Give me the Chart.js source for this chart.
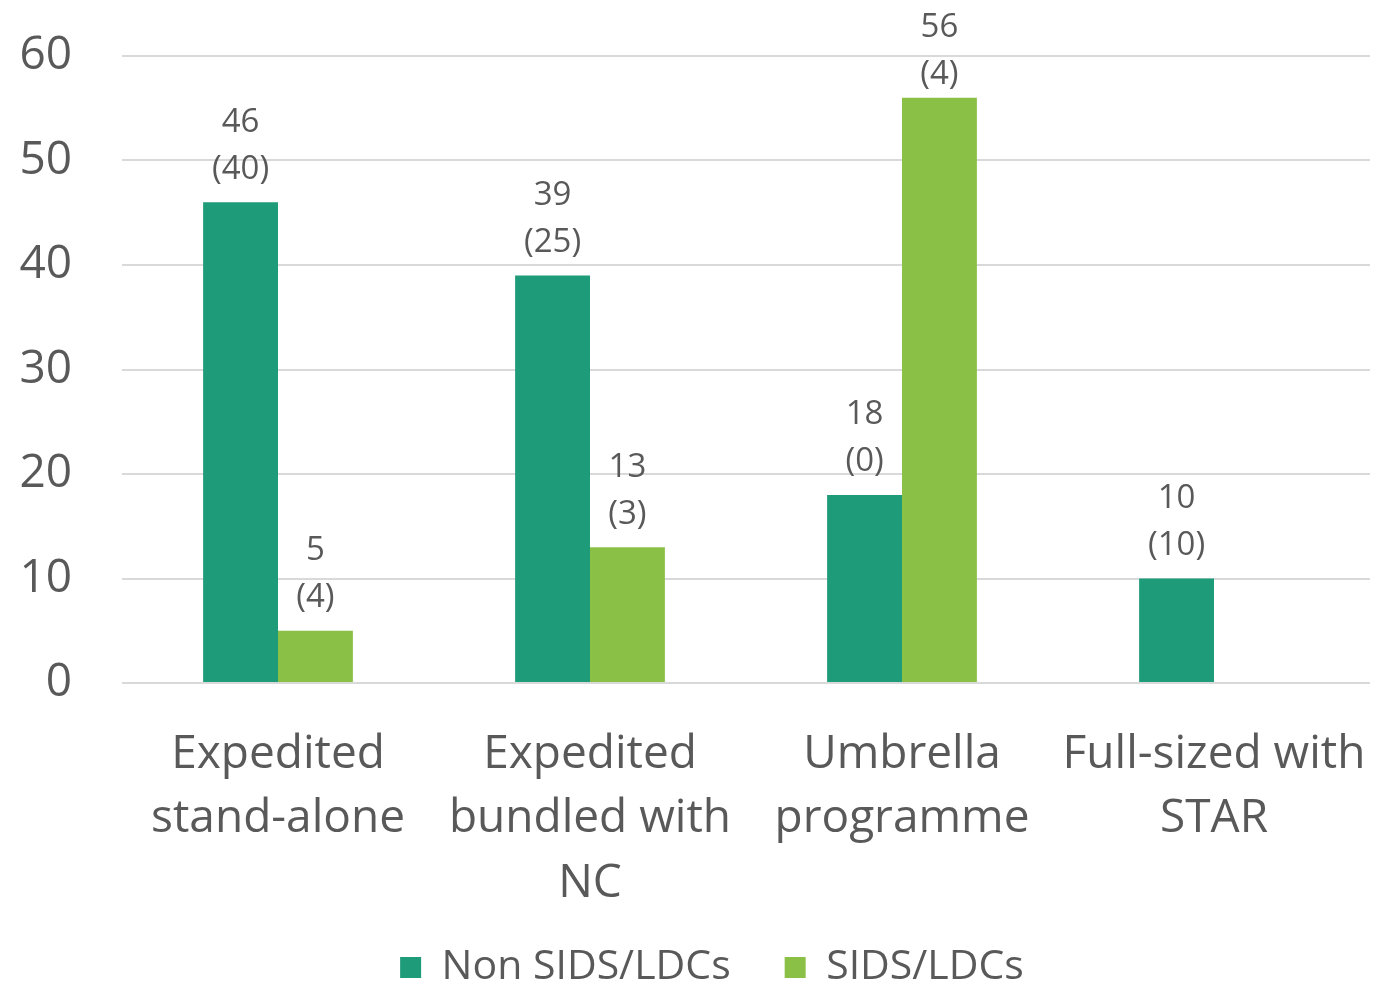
<!DOCTYPE html>
<html>
<head>
<meta charset="utf-8">
<script src="https://cdn.jsdelivr.net/npm/chart.js@4"></script>
<style>
  html, body { margin: 0; padding: 0; background: #ffffff; }
  #wrap { width: 1376px; height: 985px; }
</style>
</head>
<body>
<div id="wrap"><canvas id="chart" width="1376" height="985"></canvas></div>
<script>
// Categorías y series
const categories = [
    ['Expedited', 'stand-alone'],
    ['Expedited', 'bundled with', 'NC'],
    ['Umbrella', 'programme'],
    ['Full-sized with', 'STAR']
];
const nonSidsValues = [46, 39, 18, 10];
const sidsValues = [5, 13, 56, null];
const nonSidsNotes = ['(40)', '(25)', '(0)', '(10)'];
const sidsNotes = ['(4)', '(3)', '(4)', null];
const yTicks = [0, 10, 20, 30, 40, 50, 60];

const textColor = '#595959';
const fontFamily = '"Open Sans", Lato, sans-serif';

// Etiquetas de datos encima de cada barra (valor + nota entre paréntesis)
const barLabels = {
    id: 'barLabels',
    afterDatasetsDraw(chart) {
        const ctx = chart.ctx;
        const notes = [nonSidsNotes, sidsNotes];
        ctx.save();
        ctx.fillStyle = textColor;
        ctx.font = '33px ' + fontFamily;
        ctx.textAlign = 'center';
        ctx.textBaseline = 'middle';
        chart.data.datasets.forEach((ds, di) => {
            const meta = chart.getDatasetMeta(di);
            meta.data.forEach((bar, i) => {
                const v = ds.data[i];
                if (v === null || v === undefined) return;
                // no dejar que la etiqueta se salga por arriba
                const y1 = Math.max(bar.y - 80, 28);
                ctx.fillText(String(v), bar.x, y1);
                ctx.fillText(notes[di][i], bar.x, y1 + 47);
            });
        });
        ctx.restore();
    }
};

// Ajuste de la leyenda: altura fija y pequeño desplazamiento a la derecha
const legendTweak = {
    id: 'legendTweak',
    afterInit(chart) {
        const lg = chart.legend;
        const fit = lg.fit;
        lg.fit = function () {
            fit.call(this);
            this.height = 92;
        };
    },
    afterLayout(chart) {
        chart.legend.left += 27;
        chart.legend.right += 27;
    }
};

const ctx = document.getElementById('chart').getContext('2d');
new Chart(ctx, {
    type: 'bar',
    data: {
        labels: categories,
        datasets: [{
            label: 'Non SIDS/LDCs',
            data: nonSidsValues,
            backgroundColor: '#1e9b78',
            categoryPercentage: 0.48,
            barPercentage: 1.0
        }, {
            label: 'SIDS/LDCs',
            data: sidsValues,
            backgroundColor: '#8bc046',
            categoryPercentage: 0.48,
            barPercentage: 1.0
        }]
    },
    options: {
        responsive: false,
        animation: false,
        devicePixelRatio: 1,
        layout: { padding: { top: 56, right: 6, left: 0, bottom: 0 } },
        plugins: {
            legend: {
                position: 'bottom',
                labels: {
                    color: textColor,
                    font: { family: fontFamily, size: 41 },
                    boxWidth: 21,
                    boxHeight: 21,
                    padding: 54
                }
            },
            tooltip: { enabled: false }
        },
        scales: {
            x: {
                grid: { display: false },
                border: { display: false },
                afterFit(scale) {
                    scale.height = 210;
                    scale.paddingLeft = 0;
                    scale.paddingRight = 0;
                    scale._computeLabelArea = () => null;
                },
                ticks: {
                    color: textColor,
                    font: { family: fontFamily, size: 46, lineHeight: 1.41 },
                    maxRotation: 0,
                    autoSkip: false,
                    padding: 31
                }
            },
            y: {
                min: 0,
                max: 60,
                afterBuildTicks(scale) {
                    scale.ticks = yTicks.map(v => ({ value: v }));
                },
                afterFit(scale) {
                    scale.width = 122;
                    scale.paddingTop = 0;
                    scale.paddingBottom = 0;
                },
                grid: { color: '#d9d9d9', lineWidth: 2, drawTicks: false },
                border: { display: false },
                ticks: {
                    color: textColor,
                    font: { family: fontFamily, size: 46 },
                    padding: 50
                }
            }
        }
    },
    plugins: [barLabels, legendTweak]
});
</script>
</body>
</html>
